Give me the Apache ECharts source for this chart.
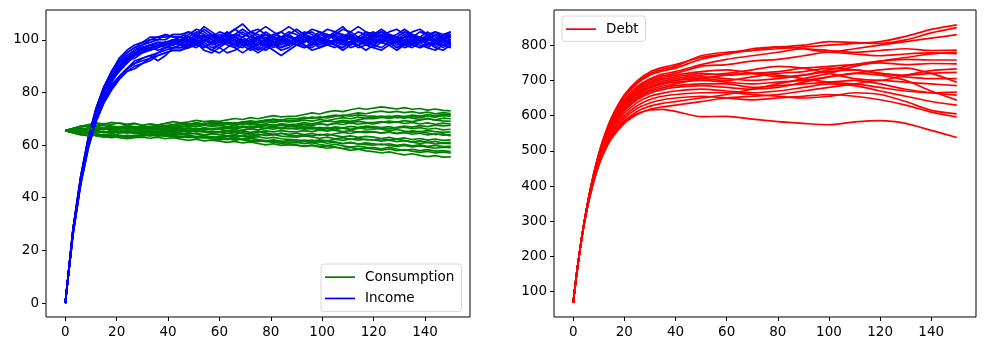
<!DOCTYPE html>
<html><head><meta charset="utf-8">
<script src="https://cdn.jsdelivr.net/npm/echarts@6/dist/echarts.min.js"></script>
<style>html,body{margin:0;padding:0;background:#fff}#c{width:986px;height:351px}</style>
</head><body><div id="c"></div>
<script>
// time points for income / consumption paths
const tPaths = [0,3,6,9,12,15,18,21,24,27,30,33,36,39,42,45,48,51,54,57,60,63,66,69,72,75,78,81,84,87,90,93,96,99,102,105,108,111,114,117,120,123,126,129,132,135,138,141,144,147,150];
const incomePaths = [
[0,27,47,62,72,80,86,90,93,95,97,98,97,99,100, 101,99,100,102,100,98,99,101,103,101,100,99,97,99,101,100,102,101,99,100,98,100,101,103,102,100,99,101,100,98,99,101,100,102,101,100],
[0,27,46,61,71,78,83,86,89,91,93,94,95,97,97, 98,97,99,96,95,97,99,98,100,99,97,96,98,100,99,98,97,99,101,100,98,97,99,98,96,98,100,99,97,98,100,99,97,96,98,97],
[0,28,48,63,74,82,88,92,95,97,99,100,101,101,102, 102,103,101,104,102,100,102,104,102,101,103,105,103,101,102,100,102,104,103,101,102,104,103,101,100,102,103,101,102,104,102,100,101,103,102,101],
[0,26,45,59,69,76,81,85,88,90,91,93,94,95,96, 96,98,97,99,101,100,98,97,95,97,99,100,98,96,97,99,101,99,98,100,102,100,99,97,98,100,99,98,100,101,99,98,97,99,100,98],
[0,27,47,61,72,79,85,90,93,95,96,98,99,99,100, 100,102,104,103,101,99,100,102,101,99,98,100,102,103,101,100,99,101,103,102,100,101,103,105,103,101,102,100,101,103,101,99,100,102,101,103],
[0,26,46,60,71,79,85,88,91,94,96,97,98,97,98, 99,101,100,98,96,98,100,101,99,97,98,100,99,101,100,98,99,101,100,98,97,99,101,100,98,99,101,102,100,99,98,100,99,97,99,100],
[0,28,48,63,74,82,88,93,96,98,99,101,101,102,101, 101,100,102,105,103,101,100,102,101,103,104,102,100,101,99,101,103,102,100,101,102,100,98,100,102,101,103,102,100,101,103,104,102,100,101,102],
[0,27,46,60,70,77,82,86,89,91,92,93,95,96,97, 97,99,98,100,99,97,95,96,98,100,99,97,98,99,101,100,98,97,99,98,100,99,97,98,100,101,99,98,96,98,99,97,98,100,99,98],
[0,27,46,61,72,80,86,90,92,95,96,96,97,99,99, 100,98,99,101,102,100,99,97,99,101,100,102,101,99,98,100,102,103,101,100,99,101,100,98,99,101,103,101,100,102,100,99,101,100,98,99],
[0,27,47,62,72,79,85,89,92,94,97,98,98,98,100, 99,100,102,101,99,100,103,101,100,98,100,101,99,100,102,104,102,100,101,99,100,102,101,99,100,102,100,101,99,100,102,101,103,101,100,102],
[0,28,47,62,72,80,85,89,93,95,95,97,98,99,99, 98,100,99,97,99,101,100,98,97,99,100,98,96,94,96,98,100,99,97,98,100,99,101,100,98,97,99,100,98,99,101,100,98,99,97,99],
[0,27,46,60,71,79,84,89,92,93,95,97,96,97,99, 100,99,101,100,98,99,101,102,104,102,100,99,101,100,98,100,101,99,100,102,101,99,98,100,101,100,102,101,99,100,98,100,101,99,100,101],
[0,28,47,62,73,81,87,91,94,96,98,99,100,100,102, 102,101,103,102,100,102,101,99,101,103,102,100,101,103,105,103,101,100,102,101,103,102,100,101,103,102,104,102,101,103,102,100,102,103,101,102],
[0,26,46,61,71,78,84,88,92,94,95,96,98,99,98, 99,97,98,100,99,101,100,98,99,97,95,97,99,98,100,99,97,98,100,99,98,96,98,100,99,98,100,99,101,99,98,97,99,98,100,99],
[0,27,47,61,72,80,86,90,93,94,96,97,97,98,99, 100,101,99,100,102,101,99,100,98,100,101,103,101,100,99,101,100,98,100,102,101,100,99,101,100,102,101,99,100,98,100,101,100,99,101,100],
[0,27,46,61,71,77,82,86,89,92,93,94,92,94,97, 97,98,100,99,97,98,100,101,99,98,96,98,100,101,99,98,100,99,97,99,100,98,99,101,100,98,97,99,100,98,97,99,101,99,98,97],
[0,28,48,63,74,82,87,92,95,97,98,100,100,102,101, 101,103,102,100,101,103,102,104,106,103,101,102,100,101,103,102,100,101,102,104,103,101,102,100,102,103,101,103,104,102,101,103,102,100,102,103],
[0,27,46,61,71,79,85,90,92,95,97,96,98,99,99, 99,100,98,97,99,100,102,100,99,101,100,98,99,97,98,100,99,101,100,98,99,100,102,100,99,98,100,99,97,99,100,101,99,98,100,99],
[0,27,47,61,72,80,85,89,93,96,97,98,99,98,99, 100,99,101,100,99,101,103,101,100,99,101,100,102,101,99,100,102,100,99,101,103,105,102,100,101,99,100,102,101,100,99,101,100,102,100,101],
[0,26,45,59,69,76,81,85,88,89,91,92,94,95,96, 96,97,99,98,96,95,97,99,98,96,97,99,98,97,99,100,98,96,97,99,98,97,99,100,98,97,96,98,99,97,98,100,99,97,96,98]
];
const consumptionPaths = [
[65.5,66.3,67.1,67.8,68.4,68.0,68.6,68.2,67.7,68.1, 67.5,68.0,67.6,68.3,68.9,68.4,68.8,69.4,68.9,69.2, 69.0,69.6,70.1,69.7,70.4,70.0,70.6,71.2,70.7,70.9, 71.0,71.6,72.2,71.8,72.6,73.1,72.7,73.4,74.0,73.6, 74.0,74.5,74.1,73.7,74.2,73.6,73.9,73.3,73.7,73.2, 73.0],
[65.5,64.8,64.2,64.7,64.0,63.5,63.9,63.3,63.7,63.4, 64.0,63.6,64.1,63.5,63.0,63.4,62.8,63.2,62.7,62.9, 62.5,62.1,62.6,62.0,61.5,61.9,61.3,61.7,61.2,60.8, 61.0,60.5,60.9,60.2,59.8,60.3,59.7,59.2,59.6,59.1, 59.0,58.6,59.1,58.5,58.0,58.4,57.9,58.3,57.7,57.9, 57.5],
[65.5,66.3,67.0,67.5,67.0,67.6,67.1,66.7,67.2,66.8, 66.5,67.1,66.8,67.4,67.0,67.6,68.1,67.7,68.3,67.9, 68.0,68.5,68.2,68.8,68.4,69.0,69.5,69.1,69.7,69.3, 69.5,70.1,70.6,70.2,70.9,71.4,71.0,71.7,72.2,71.9, 72.5,72.9,72.4,72.8,72.3,72.7,72.1,72.5,71.9,72.3, 72.0],
[65.5,65.0,64.6,65.0,64.3,63.9,64.4,63.8,63.3,63.7, 63.5,63.9,64.4,63.9,64.5,64.1,64.6,64.2,63.8,64.3, 64.0,63.5,63.9,63.3,62.8,63.2,62.6,62.9,62.4,62.2, 62.0,61.5,61.9,61.3,61.7,61.1,60.6,61.0,60.4,60.2, 60.0,60.4,59.9,59.5,59.9,59.3,59.7,59.2,58.8,59.2, 59.0],
[65.5,66.1,65.8,66.4,66.0,66.6,67.1,66.7,67.3,66.9, 67.0,66.5,66.9,66.3,66.7,66.1,65.7,66.2,65.8,66.3, 66.0,66.5,66.1,66.7,67.2,66.8,67.4,67.0,67.6,67.2, 67.5,67.1,67.6,68.1,67.7,68.2,67.8,68.4,67.9,68.3, 68.0,68.6,69.1,68.7,69.3,68.9,69.5,70.0,69.6,70.2, 70.0],
[65.5,65.2,65.7,65.1,64.7,65.2,64.6,65.0,64.5,64.9, 64.5,65.0,64.6,65.2,64.8,65.4,64.9,65.5,65.1,64.8, 65.0,64.5,64.9,64.3,63.8,64.2,63.6,64.0,63.4,63.2, 63.0,63.5,63.1,62.6,63.0,62.4,62.8,62.2,62.6,62.1, 62.0,62.4,61.9,62.3,61.7,61.2,61.6,61.0,61.4,60.8, 61.0],
[65.5,65.9,65.5,66.1,65.7,66.2,65.8,66.4,66.0,66.3, 66.0,66.5,66.1,66.7,67.2,66.8,67.4,67.0,67.6,67.2, 67.5,67.0,67.4,66.8,66.4,66.9,66.3,66.7,66.1,66.4, 66.0,66.5,66.1,66.7,66.3,66.9,66.5,67.1,66.7,67.2, 67.0,66.6,67.0,66.4,66.8,66.2,66.6,66.0,66.4,65.8, 66.0],
[65.5,64.6,63.9,64.3,63.5,63.0,63.4,62.8,62.4,62.8, 63.0,62.6,63.0,62.4,62.8,62.2,61.8,62.2,61.6,61.9, 61.5,61.0,61.4,60.8,61.2,60.6,60.1,60.5,59.9,60.2, 60.0,59.5,59.9,59.3,58.8,59.2,58.6,58.0,58.4,57.8, 57.5,57.0,57.4,56.8,56.3,56.7,56.1,55.6,56.0,55.4, 55.5],
[65.5,65.9,66.4,66.0,66.6,66.2,66.8,66.4,66.9,66.5, 66.5,66.0,66.4,65.8,66.2,65.6,65.1,65.5,64.9,65.3, 65.0,65.5,65.1,65.7,66.2,65.8,66.4,66.0,66.6,66.2, 66.5,66.0,66.4,65.8,66.2,65.6,65.1,65.5,64.9,65.3, 65.0,64.5,64.9,64.3,64.7,64.1,64.5,63.9,64.3,63.8, 64.0],
[65.5,65.1,65.5,64.9,65.3,64.8,65.2,64.6,65.0,64.7, 65.0,64.5,64.1,64.5,63.9,64.3,63.7,63.2,63.6,63.1, 63.0,63.4,63.0,63.6,63.2,63.8,64.3,63.9,64.5,64.1, 64.5,64.0,64.4,63.8,64.2,63.6,63.1,63.5,62.9,63.3, 63.0,62.5,62.9,62.3,62.7,62.1,62.5,61.9,62.3,61.8, 62.0],
[65.5,66.4,67.2,66.8,67.6,68.2,67.8,68.4,67.9,68.3, 67.5,68.0,67.6,68.2,67.8,68.3,67.9,68.4,68.0,68.3, 68.0,68.5,68.1,68.7,69.2,68.8,69.4,69.9,69.5,70.1, 70.0,70.5,70.1,70.7,70.3,70.9,71.4,71.0,71.5,71.1, 71.0,70.6,71.0,70.4,70.8,70.2,69.7,70.1,69.5,69.2, 69.0],
[65.5,64.7,64.0,63.6,64.1,63.5,63.0,63.4,62.9,63.4, 64.0,63.5,63.9,63.3,63.7,63.1,63.5,62.9,63.3,62.8, 63.0,62.5,62.0,62.4,61.8,61.3,61.7,61.1,60.6,60.3, 60.0,59.6,60.0,59.4,59.8,59.2,58.7,59.1,58.5,58.8, 58.5,58.1,58.5,57.9,58.3,57.7,57.2,57.6,57.0,57.3, 57.0],
[65.5,65.8,65.4,65.9,66.3,65.9,66.4,66.0,66.5,66.1, 66.0,66.5,66.1,66.7,66.3,66.9,67.4,67.0,67.6,67.3, 67.5,68.0,67.6,68.2,67.8,68.4,68.9,68.5,69.1,68.8, 69.0,69.5,69.1,69.7,69.3,69.9,70.4,70.0,70.6,70.2, 70.5,71.0,70.6,71.2,70.8,71.4,71.0,71.6,71.2,71.7, 71.5],
[65.5,65.9,65.5,66.0,65.6,66.1,65.7,65.3,65.8,65.4, 65.5,65.0,65.4,64.8,65.2,64.6,64.1,64.5,63.9,64.3, 64.0,64.5,64.1,64.7,64.3,64.9,65.4,65.0,65.5,65.1, 65.0,65.5,65.1,65.7,65.3,65.9,66.4,66.0,66.5,66.1, 66.0,66.5,66.1,66.7,67.2,66.8,67.4,67.0,67.6,67.3, 67.5],
[65.5,65.0,65.4,64.9,65.3,64.7,65.1,64.6,65.0,64.4, 64.5,64.0,63.5,63.9,63.3,62.8,63.2,62.6,62.9,62.3, 62.0,62.4,61.9,62.3,61.7,62.1,61.5,61.0,61.4,60.9, 61.0,61.4,60.9,61.3,60.7,61.1,60.5,60.9,60.4,60.8, 60.5,60.1,60.5,59.9,60.3,59.7,60.1,59.5,59.9,59.4, 59.5],
[65.5,66.2,66.9,67.5,67.0,67.6,67.1,66.8,67.3,66.9, 66.5,67.0,67.5,67.1,67.7,68.2,67.8,68.4,68.0,68.6, 68.5,68.1,68.5,67.9,68.3,67.7,68.1,67.5,67.9,67.3, 67.5,67.9,67.5,68.1,67.7,68.3,68.8,68.4,69.0,68.6, 68.5,68.9,68.4,68.8,68.2,68.6,68.0,68.4,67.9,68.3, 68.0],
[65.5,65.2,65.6,65.0,65.4,64.9,65.3,64.8,65.2,64.8, 65.0,65.4,65.0,65.6,65.2,65.8,66.3,65.9,66.4,66.0, 66.0,65.5,65.9,65.3,64.8,65.2,64.6,64.1,64.5,63.8, 63.5,63.9,63.5,64.1,63.7,64.3,64.8,64.4,65.0,64.7, 65.0,64.6,65.0,64.5,64.9,65.4,65.0,65.5,65.1,64.8, 65.0],
[65.5,66.0,65.7,66.2,66.7,66.3,66.8,66.4,67.0,66.7, 67.0,66.6,67.0,66.4,66.8,66.2,66.6,66.1,66.5,66.3, 66.5,67.0,66.6,67.2,66.8,67.4,67.9,67.5,68.1,67.8, 68.0,68.5,68.1,68.7,69.2,68.8,69.4,69.0,69.6,70.1, 70.0,70.5,70.1,70.6,70.2,70.8,70.4,71.0,70.6,71.2, 71.0],
[65.5,64.8,64.1,63.5,63.9,63.2,62.8,63.2,62.6,63.1, 63.5,63.9,63.5,64.0,63.6,63.1,63.5,62.9,63.3,62.8, 63.0,62.5,62.9,62.3,62.7,62.1,61.6,62.0,61.4,61.7, 61.5,61.9,61.5,62.0,61.6,62.2,61.8,62.3,61.9,62.2, 62.0,61.5,61.9,61.3,61.7,61.1,60.6,61.0,60.4,60.7, 60.5],
[65.5,65.9,65.5,66.0,66.4,66.0,66.5,66.1,66.6,66.2, 66.0,65.6,66.0,65.4,65.8,65.2,65.6,65.0,65.4,64.9, 65.0,65.5,65.1,65.7,66.2,65.8,66.4,66.9,66.5,67.1, 67.0,66.5,66.9,66.3,66.7,66.1,66.5,65.9,66.3,66.8, 66.5,66.0,65.5,65.9,65.3,64.8,65.2,64.6,64.0,64.3, 63.5]
];
// time points for debt paths
const tDebt = [0,1,2,3,4,6,8,10,12,15,20,25,30,35,40,50,60,70,80,90,100,110,120,130,140,150];
const debtPaths = [
[68,130,186,237,285,366,435,492,539,595,659,699,724,737, 745,765,775,785,790,795,800,805,810,825,845,858],
[68,130,186,237,284,365,433,489,535,590,652,691,715,727, 735,760,775,790,795,800,810,808,805,815,835,850],
[68,130,186,237,285,365,434,490,537,592,655,695,719,732, 740,770,780,785,795,790,780,790,800,810,820,830],
[68,130,186,237,284,364,431,486,531,585,645,683,705,718, 725,745,760,770,780,790,785,780,785,790,785,786],
[68,130,186,237,284,363,430,485,529,582,641,678,701,713, 720,740,745,755,760,770,780,775,770,775,778,776],
[68,130,186,237,284,363,429,483,528,579,638,674,696,708, 715,725,730,720,710,715,730,745,755,760,758,758],
[68,130,186,237,283,362,428,482,526,577,634,670,692,703, 710,720,715,720,725,735,740,745,750,745,748,747],
[68,130,186,237,283,362,427,480,524,574,631,666,687,698, 705,715,720,730,740,735,720,705,700,715,728,733],
[68,130,186,236,283,361,426,479,522,571,627,662,682,693, 700,710,705,700,705,715,725,730,720,715,720,723],
[68,130,186,236,283,361,426,479,522,572,628,661,681,692, 700,705,700,710,720,725,735,730,720,710,705,705],
[68,130,186,236,283,361,425,477,520,569,624,658,678,689, 695,700,695,690,695,700,710,720,730,735,720,695],
[68,130,186,236,282,360,424,476,518,566,620,653,673,684, 690,705,715,720,715,705,695,690,680,670,665,667],
[68,130,186,236,282,360,423,474,516,564,617,649,669,679, 685,690,690,680,685,690,695,700,690,675,665,658],
[68,130,186,236,282,359,422,473,514,561,613,645,664,674, 680,685,680,675,680,695,710,720,715,700,670,644],
[68,130,186,236,282,358,420,470,510,556,606,637,655,664, 670,675,670,665,670,680,690,685,670,655,640,630],
[68,130,186,236,281,357,418,467,506,551,599,628,646,655, 660,665,665,660,655,650,655,665,660,640,615,605],
[68,130,186,235,281,356,416,464,502,545,592,620,636,645, 650,655,650,645,650,655,660,655,645,630,610,596],
[68,130,186,235,280,355,414,461,499,540,585,612,627,635, 640,650,660,675,690,705,720,740,755,765,775,780],
[68,130,186,235,280,354,412,459,495,535,578,603,618,625, 630,640,650,655,660,670,680,690,700,695,690,685],
[68,130,186,235,280,354,412,459,495,537,582,605,616,618, 612,597,598,590,583,578,574,582,586,578,558,538]
];
const xTicks = [0,20,40,60,80,100,120,140];
const yTicksLeft = [0,20,40,60,80,100];
const yTicksRight = [100,200,300,400,500,600,700,800];

const FONT = 'DejaVu Sans';
const LW = 1.7;
const chart = echarts.init(document.getElementById('c'), null, {renderer:'canvas'});
function pairs(ts, vs){ return vs.map((v,i)=>[ts[i], v]); }
function xAxisDef(idx){
  return {type:'value', gridIndex:idx, min:-7.5, max:157.5, position:'bottom',
    splitLine:{show:false}, axisLine:{show:false, onZero:false},
    axisTick:{show:true, inside:false, length:4, customValues:xTicks, lineStyle:{color:'#000', width:1}},
    axisLabel:{customValues:xTicks, margin:8, color:'#000', fontFamily:FONT, fontSize:13.5}};
}
function yAxisDef(idx, mn, mx, ticks){
  return {type:'value', gridIndex:idx, min:mn, max:mx, position:'left',
    splitLine:{show:false}, axisLine:{show:false, onZero:false},
    axisTick:{show:true, inside:false, length:4, customValues:ticks, lineStyle:{color:'#000', width:1}},
    axisLabel:{customValues:ticks, margin:7, color:'#000', fontFamily:FONT, fontSize:13.5}};
}
const series = [];
for (let i=0;i<incomePaths.length;i++){
  series.push({type:'line', name:'Consumption', xAxisIndex:0, yAxisIndex:0, symbol:'none',
    data:pairs(tPaths, consumptionPaths[i]), lineStyle:{color:'#008000', width:LW}, itemStyle:{color:'#008000'}, silent:true});
  series.push({type:'line', name:'Income', xAxisIndex:0, yAxisIndex:0, symbol:'none',
    data:pairs(tPaths, incomePaths[i]), lineStyle:{color:'#0000ff', width:LW}, itemStyle:{color:'#0000ff'}, silent:true});
}
for (let i=0;i<debtPaths.length;i++){
  series.push({type:'line', name:'Debt', xAxisIndex:1, yAxisIndex:1, symbol:'none', smooth:0.25,
    data:pairs(tDebt, debtPaths[i]), lineStyle:{color:'#ff0000', width:LW}, itemStyle:{color:'#ff0000'}, silent:true});
}
const legendCommon = {orient:'vertical', icon:'rect', itemWidth:30, itemHeight:1.7, itemGap:7,
  borderColor:'#d6d6d6', borderWidth:1, borderRadius:3, backgroundColor:'rgba(255,255,255,0.8)',
  textStyle:{fontFamily:FONT, fontSize:13.5, lineHeight:14.3, color:'#000', padding:[0,0,0,5]}, selectedMode:false};
chart.setOption({
  animation:false,
  backgroundColor:'#fff',
  grid:[
    {left:46, top:10, width:424, height:307, show:true, borderColor:'#000', borderWidth:1, backgroundColor:'transparent'},
    {left:554, top:10, width:422, height:307, show:true, borderColor:'#000', borderWidth:1, backgroundColor:'transparent'}
  ],
  xAxis:[xAxisDef(0), xAxisDef(1)],
  yAxis:[yAxisDef(0,-5.3,111.3,yTicksLeft), yAxisDef(1,28,900,yTicksRight)],
  legend:[
    Object.assign({}, legendCommon, {data:['Consumption','Income'], left:321, top:264, padding:[6,7,6,4]}),
    Object.assign({}, legendCommon, {data:['Debt'], left:562, top:16, padding:[6,7,5,4]})
  ],
  series:series
});
</script>
</body></html>
